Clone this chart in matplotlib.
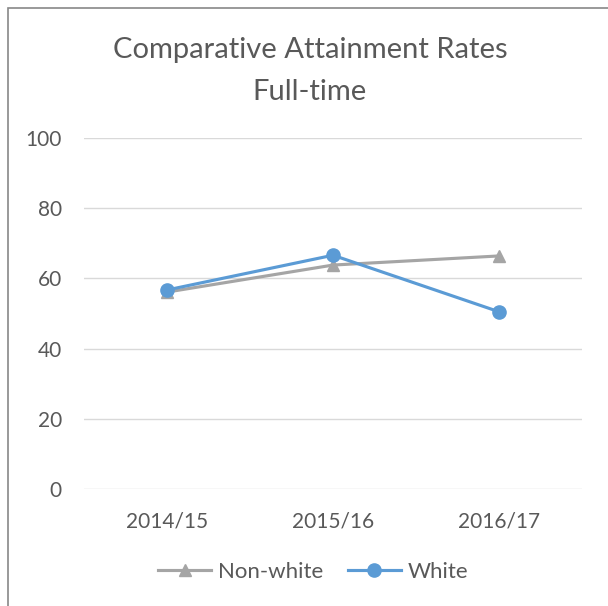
"""
Comparative attainment rates (full-time) — line chart.
"""

import matplotlib
matplotlib.use("Agg")
import matplotlib.pyplot as plt
from matplotlib.patches import Rectangle

years = ["2014/15", "2015/16", "2016/17"]
non_white = [56.1, 63.8, 66.4]
white = [56.7, 66.6, 50.5]

TEXT = "#595959"
GREY = "#A5A5A5"
BLUE = "#5B9BD5"

plt.rcParams["font.family"] = ["Lato", "DejaVu Sans"]

fig = plt.figure(figsize=(6.08, 6.06), dpi=100)
ax = fig.add_axes([84 / 608, 1 - 489 / 606, (582 - 84) / 608, (489 - 138) / 606])

x = list(range(len(years)))
ax.plot(x, non_white, color=GREY, linewidth=2.25, marker="^", markersize=9,
        label="Non-white")
ax.plot(x, white, color=BLUE, linewidth=2.25, marker="o", markersize=9.5,
        label="White")

ax.set_xlim(-0.5, len(years) - 0.5)
ax.set_ylim(0, 100)
ax.set_yticks(range(0, 101, 20))
ax.set_xticks(x)
ax.set_xticklabels(years)
ax.tick_params(colors=TEXT, labelsize=15, length=0)
ax.tick_params(axis="x", pad=16)
ax.tick_params(axis="y", pad=16)
ax.grid(axis="y", color="#D9D9D9", linewidth=1)
ax.set_axisbelow(True)
for s in ax.spines.values():
    s.set_visible(False)

fig.text(310 / 608, 1 - 58 / 606, "Comparative Attainment Rates", ha="center",
         va="baseline", fontsize=21, color=TEXT)
fig.text(310 / 608, 1 - 100 / 606, "Full-time", ha="center", va="baseline",
         fontsize=21, color=TEXT)

fig.legend(loc="center", bbox_to_anchor=(313 / 608, 1 - 572 / 606), ncol=2,
           frameon=False, fontsize=16, labelcolor=TEXT, handlelength=2.4,
           columnspacing=1.1, handletextpad=0.3)

# outer chart border (extends past the bottom/right edge of the image)
fig.patches.append(Rectangle((8 / 608, -0.1), 1.2, 1 - 8 / 606 + 0.1,
                             transform=fig.transFigure, fill=False,
                             edgecolor="#888888", linewidth=1.2))

fig.savefig("out.png", dpi=100)
